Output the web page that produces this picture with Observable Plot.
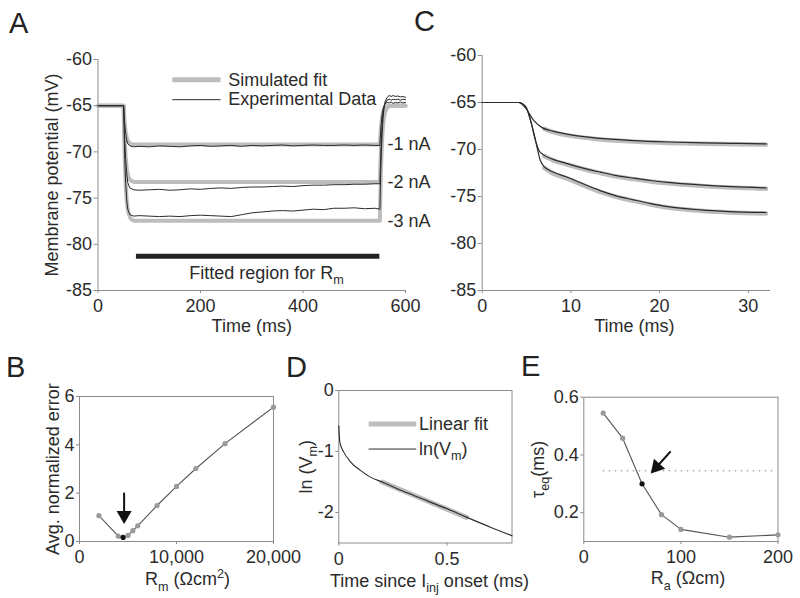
<!DOCTYPE html>
<html><head><meta charset="utf-8">
<script src="https://cdn.jsdelivr.net/npm/d3@7"></script>
<script src="https://cdn.jsdelivr.net/npm/@observablehq/plot@0.6"></script>
<style>
body{margin:0;background:#fff;}
#fig{position:relative;width:800px;height:598px;overflow:hidden;font-family:"Liberation Sans",Arial,Helvetica,sans-serif;color:#2b2b2b;background:#fff;}
.panel{position:absolute;}
.letter{position:absolute;font-size:29px;line-height:1;color:#222;}
</style></head><body><div id="fig"></div>
<script>
// ---------- Panel A data ----------
const tFitA = [0, 50, 52, 54, 56, 58, 60, 63, 66, 70, 80, 550, 552, 554, 556, 558, 560, 563, 566, 570, 580, 600];
const fitA1 = [-65, -65, -66.8, -67.86, -68.44, -68.78, -68.95, -69.1, -69.17, -69.2, -69.2, -69.2, -67.4, -66.35, -65.75, -65.42, -65.25, -65.1, -65.03, -65.0, -65.0, -65.0];
const fitA2 = [-65, -65, -68.55, -70.6, -71.77, -72.43, -72.76, -73.04, -73.17, -73.25, -73.25, -73.25, -69.7, -67.6, -66.45, -65.8, -65.5, -65.2, -65.08, -65.02, -65.0, -65.0];
const fitA3 = [-65, -65, -70.35, -73.47, -75.21, -76.2, -76.7, -77.14, -77.33, -77.45, -77.45, -77.45, -72.1, -69.0, -67.25, -66.25, -65.75, -65.3, -65.12, -65.04, -65.0, -65.0];
const tExpA = [0, 50, 52, 54, 56, 58, 62, 70, 80, 100, 120, 140, 160, 180, 200, 220, 240, 260, 280, 300, 320, 340, 360, 380, 400, 420, 440, 460, 480, 500, 520, 540, 550, 552, 554, 556, 558, 560, 564, 568, 572, 576, 580, 585, 590, 595, 600];
const expA1 = [-65, -65, -66.9, -68.0, -68.7, -69.1, -69.35, -69.45, -69.4,
  -69.45, -69.35, -69.4, -69.45, -69.35, -69.3, -69.4, -69.35, -69.3, -69.4, -69.3, -69.35, -69.3, -69.25, -69.35, -69.3, -69.25, -69.3, -69.3, -69.25, -69.3, -69.25, -69.3,
  -69.3, -67.3, -66.1, -65.4, -65.0, -64.8, -64.65, -64.7, -64.6, -64.75, -64.65, -64.7, -64.6, -64.7, -64.65];
const expA2 = [-65, -65, -68.5, -70.8, -72.3, -73.3, -73.9, -74.1, -74.15,
  -74.1, -74.05, -74.15, -74.1, -74.0, -74.05, -73.95, -73.9, -73.95, -73.85, -73.8, -73.8, -73.75, -73.7, -73.75, -73.65, -73.6, -73.6, -73.55, -73.55, -73.5, -73.5, -73.45,
  -73.45, -69.8, -67.4, -66.0, -65.2, -64.8, -64.4, -64.3, -64.4, -64.3, -64.35, -64.3, -64.4, -64.3, -64.35];
const expA3 = [-65, -65, -70.3, -73.4, -75.2, -76.2, -76.8, -76.95, -76.9,
  -76.95, -77.0, -76.95, -77.0, -76.9, -76.85, -76.9, -76.95, -77.0, -76.8, -76.6, -76.5, -76.4, -76.35, -76.4, -76.3, -76.2, -76.25, -76.1, -76.1, -76.05, -76.15, -76.1,
  -76.2, -71.5, -68.4, -66.5, -65.3, -64.6, -64.1, -63.9, -64.0, -63.9, -64.0, -63.95, -64.05, -64.0, -64.1];
const currentsA = ["-1 nA", "-2 nA", "-3 nA"];
const fittedRegionA = [75, 550];

// ---------- Panel C data ----------
const tC1 = [0, 4.1, 4.9, 5.8, 6.8, 8, 10, 13, 17, 21, 25, 29, 32];
const vC1 = [-65, -65, -65.6, -66.9, -67.7, -68.05, -68.45, -68.8, -69.05, -69.2, -69.3, -69.35, -69.4];
const tC2 = [0, 4.1, 4.9, 5.45, 6.0, 6.4, 6.95, 8, 9.6, 11.5, 13.3, 15, 17.1, 19, 20.9, 24.6, 28, 32];
const vC2 = [-65, -65, -65.45, -66.9, -69.0, -70.1, -70.6, -71.05, -71.5, -72.0, -72.4, -72.75, -73.05, -73.3, -73.5, -73.77, -73.95, -74.08];
const tC3 = [0, 4.1, 4.9, 5.45, 6.0, 6.57, 6.95, 8, 9.6, 11.5, 13.3, 15, 17.1, 19, 20.9, 24.6, 27.9, 32];
const vC3 = [-65, -65, -65.45, -66.9, -69.0, -71.2, -71.8, -72.4, -72.95, -73.7, -74.37, -74.9, -75.36, -75.75, -76.08, -76.43, -76.6, -76.7];
const tFitC1 = [7, 8, 10, 13, 17, 21, 25, 29, 32];
const fitC1 = [-67.8, -68.15, -68.55, -68.9, -69.15, -69.3, -69.38, -69.43, -69.47];
const tFitC2 = [7, 8, 9.6, 11.5, 13.3, 15, 17.1, 19, 20.9, 24.6, 28, 32];
const fitC2 = [-70.7, -71.15, -71.6, -72.1, -72.5, -72.85, -73.15, -73.4, -73.6, -73.87, -74.05, -74.17];
const tFitC3 = [7, 8, 9.6, 11.5, 13.3, 15, 17.1, 19, 20.9, 24.6, 27.9, 32];
const fitC3 = [-71.95, -72.55, -73.1, -73.85, -74.5, -75.0, -75.47, -75.85, -76.17, -76.52, -76.7, -76.8];

// ---------- Panel B data ----------
const rmB = [2000, 4000, 4500, 5000, 5500, 6000, 8000, 10000, 12000, 15000, 20000];
const errB = [1.07, 0.22, 0.17, 0.25, 0.45, 0.65, 1.49, 2.28, 3.02, 4.05, 5.56];
const bestRmB = 4500;

// ---------- Panel D data ----------
const tD = [0, 0.002, 0.005, 0.023, 0.054, 0.1, 0.146, 0.2, 0.27, 0.346, 0.423, 0.5, 0.592, 0.7, 0.8];
const lnVD = [-0.58, -0.72, -0.85, -1.01, -1.17, -1.31, -1.42, -1.5, -1.61, -1.72, -1.83, -1.94, -2.08, -2.24, -2.38];
const fitTD = [0.2, 0.59];
const fitVD = [-1.5, -2.08];

// ---------- Panel E data ----------
const raE = [20, 40, 60, 80, 100, 150, 200];
const tauE = [0.545, 0.458, 0.30, 0.193, 0.142, 0.115, 0.123];
const bestRaE = 60;
const targetTauE = 0.345;

// ---------- helpers ----------
const FONT = '"Liberation Sans", Arial, Helvetica, sans-serif';
const AX = "#8c8c8c", INK = "#2b2b2b", FIT = "#bdbdbd";
const baseStyle = {fontFamily: FONT, fontSize: "18px", color: INK, background: "transparent", overflow: "visible"};
const fmt = d => String(d);
const fig = document.getElementById("fig");
const title = {textAnchor: "middle", lineAnchor: "middle", fontSize: 18};

function rich(root) {
  const NS = "http://www.w3.org/2000/svg";
  root.querySelectorAll("text").forEach(t => {
    const s = t.textContent;
    if (!/[_^]\{/.test(s)) return;
    const fs = parseFloat(getComputedStyle(t).fontSize) || 18;
    t.textContent = "";
    let cur = 0;
    const add = (txt, target, small) => {
      if (!txt) return;
      const ts = document.createElementNS(NS, "tspan");
      ts.textContent = txt;
      const dy = target - cur;
      if (dy) ts.setAttribute("dy", dy.toFixed(2));
      if (small) ts.setAttribute("font-size", (fs * 0.7).toFixed(1));
      cur = target;
      t.appendChild(ts);
    };
    const re = /([_^])\{([^}]*)\}/g; let last = 0, m;
    while ((m = re.exec(s))) {
      add(s.slice(last, m.index), 0, false);
      add(m[2], m[1] === "_" ? fs * 0.3 : -fs * 0.38, true);
      last = re.lastIndex;
    }
    add(s.slice(last), 0, false);
  });
}
function place(plot, left, top) {
  const d = document.createElement("div");
  d.className = "panel"; d.style.left = left + "px"; d.style.top = top + "px";
  d.appendChild(plot); fig.appendChild(d); rich(plot);
}
function letter(ch, left, top) {
  const d = document.createElement("div");
  d.className = "letter"; d.textContent = ch; d.style.left = left + "px"; d.style.top = top + "px";
  fig.appendChild(d);
}

// ---------- Panel A ----------
const fitLongA = [fitA1, fitA2, fitA3].flatMap((vs, k) => vs.map((v, i) => ({t: tFitA[i], v, s: k})));
const expLongA = [expA1, expA2, expA3].flatMap((vs, k) => vs.map((v, i) => ({t: tExpA[i], v, s: k})));
const labelA = currentsA.map((c, k) => ({c, v: [fitA1, fitA2, fitA3][k][10]}));
place(Plot.plot({
  width: 470, height: 340, marginLeft: 97.5, marginRight: 65, marginTop: 59, marginBottom: 50,
  style: baseStyle,
  x: {domain: [0, 600]}, y: {domain: [-85, -60]},
  marks: [
    Plot.axisY({ticks: [-60, -65, -70, -75, -80, -85], tickFormat: fmt, tickSize: 4, tickPadding: 2, stroke: AX, label: null}),
    Plot.axisX({ticks: [0, 200, 400, 600], tickFormat: fmt, tickSize: 3, tickPadding: 6, stroke: AX, label: null}),
    Plot.ruleX([0], {stroke: AX}),
    Plot.ruleY([-85], {stroke: AX}),
    Plot.line(fitLongA, {x: "t", y: "v", z: "s", stroke: FIT, strokeWidth: 4}),
    Plot.line(expLongA, {x: "t", y: "v", z: "s", stroke: INK, strokeWidth: 1}),
    Plot.ruleY([{x1: fittedRegionA[0], x2: fittedRegionA[1], y: -81.3}], {x1: "x1", x2: "x2", y: "y", stroke: "#222", strokeWidth: 5}),
    Plot.text(["Fitted region for R_{m}"], {x: 178, y: -83.1, textAnchor: "start", fontSize: 18}),
    Plot.ruleY([-62.2], {x1: 146, x2: 240, stroke: FIT, strokeWidth: 5}),
    Plot.ruleY([-64.35], {x1: 146, x2: 240, stroke: INK, strokeWidth: 1}),
    Plot.text(["Simulated fit"], {x: 254, y: -62.2, textAnchor: "start", fontSize: 18}),
    Plot.text(["Experimental Data"], {x: 254, y: -64.35, textAnchor: "start", fontSize: 18}),
    Plot.text(labelA, {x: 565, y: "v", text: "c", textAnchor: "start", fontSize: 18}),
    Plot.text(["Membrane potential (mV)"], {...title, frameAnchor: "left", dx: -46, rotate: -90}),
    Plot.text(["Time (ms)"], {...title, frameAnchor: "bottom", dy: 36})
  ]
}), 0, 0);

// ---------- Panel C ----------
const expLongC = [[tC1, vC1], [tC2, vC2], [tC3, vC3]].flatMap(([ts, vs], k) => vs.map((v, i) => ({t: ts[i], v, s: k})));
const fitLongC = [[tFitC1, fitC1], [tFitC2, fitC2], [tFitC3, fitC3]].flatMap(([ts, vs], k) => vs.map((v, i) => ({t: ts[i], v, s: k})));
place(Plot.plot({
  width: 400, height: 340, marginLeft: 81.7, marginRight: 30, marginTop: 55, marginBottom: 50,
  style: baseStyle,
  x: {domain: [0, 32.5]}, y: {domain: [-85, -60]},
  marks: [
    Plot.axisY({ticks: [-60, -65, -70, -75, -80, -85], tickFormat: fmt, tickSize: 4, tickPadding: 2, stroke: AX, label: null}),
    Plot.axisX({ticks: [0, 10, 20, 30], tickFormat: fmt, tickSize: 3, tickPadding: 6, stroke: AX, label: null}),
    Plot.ruleX([0], {stroke: AX}),
    Plot.ruleY([-85], {stroke: AX}),
    Plot.line(fitLongC, {x: "t", y: "v", z: "s", stroke: FIT, strokeWidth: 4.5, curve: "monotone-x"}),
    Plot.line(expLongC, {x: "t", y: "v", z: "s", stroke: INK, strokeWidth: 1.2, curve: "monotone-x"}),
    Plot.text(["Time (ms)"], {...title, frameAnchor: "bottom", dy: 36, dx: 8})
  ]
}), 400, 0);

// ---------- Panel B ----------
const dataB = rmB.map((rm, i) => ({rm, err: errB[i], best: rm === bestRmB}));
const arrowB = {x: 4600, y1: 2.02, y2: 1.0, head: 1.08};
place(Plot.plot({
  width: 330, height: 258, marginLeft: 79, marginRight: 57, marginTop: 56, marginBottom: 57,
  style: baseStyle,
  x: {domain: [0, 20000]}, y: {domain: [0, 6]},
  marks: [
    Plot.frame({stroke: AX}),
    Plot.axisY({ticks: [0, 2, 4, 6], tickFormat: fmt, tickSize: 3, tickPadding: 2, stroke: AX, label: null}),
    Plot.axisX({ticks: [0, 10000, 20000], tickFormat: d3.format(","), tickSize: 3, tickPadding: 6, stroke: AX, label: null}),
    Plot.line(dataB, {x: "rm", y: "err", stroke: "#555", strokeWidth: 1.1}),
    Plot.dot(dataB, {x: "rm", y: "err", r: 2.6, fill: d => d.best ? "#111" : "#9a9a9a"}),
    Plot.link([arrowB], {x1: "x", x2: "x", y1: "y1", y2: "y2", stroke: "#111", strokeWidth: 2}),
    Plot.dot([arrowB], {x: "x", y: "head", symbol: "triangle", r: 5.6, fill: "#111", rotate: 180}),
    Plot.text(["Avg. normalized error"], {...title, frameAnchor: "left", dx: -26, rotate: -90}),
    Plot.text(["R_{m} (Ωcm^{2})"], {...title, frameAnchor: "bottom", dy: 38, dx: 11})
  ]
}), 0, 340);

// ---------- Panel D ----------
const dataD = tD.map((t, i) => ({t, v: lnVD[i]}));
const fitD = fitTD.map((t, i) => ({t, v: fitVD[i]}));
place(Plot.plot({
  width: 240, height: 258, marginLeft: 48.3, marginRight: 18.5, marginTop: 50, marginBottom: 55.5,
  style: baseStyle,
  x: {domain: [0, 0.8]}, y: {domain: [-2.5, 0]},
  marks: [
    Plot.frame({stroke: AX}),
    Plot.axisY({ticks: [0, -1, -2], tickFormat: fmt, tickSize: 3, tickPadding: 2, stroke: AX, label: null}),
    Plot.axisX({ticks: [0, 0.5], tickFormat: fmt, tickSize: 3, tickPadding: 6, stroke: AX, label: null}),
    Plot.line(fitD, {x: "t", y: "v", stroke: FIT, strokeWidth: 5}),
    Plot.line(dataD, {x: "t", y: "v", stroke: INK, strokeWidth: 1.1, curve: "monotone-x"}),
    Plot.ruleY([-0.55], {x1: 0.14, x2: 0.36, stroke: FIT, strokeWidth: 5}),
    Plot.ruleY([-0.96], {x1: 0.14, x2: 0.36, stroke: INK, strokeWidth: 1}),
    Plot.text(["Linear fit"], {x: 0.37, y: -0.55, textAnchor: "start", fontSize: 18}),
    Plot.text(["ln(V_{m})"], {x: 0.37, y: -0.96, textAnchor: "start", fontSize: 18}),
    Plot.text(["ln (V_{m})"], {...title, frameAnchor: "left", dx: -33, rotate: -90}),
    Plot.text(["Time since I_{inj} onset (ms)"], {...title, frameAnchor: "bottom", dy: 38, dx: 4})
  ]
}), 290, 340);

// ---------- Panel E ----------
const dataE = raE.map((ra, i) => ({ra, tau: tauE[i], best: ra === bestRaE}));
const arrowE = {x1: 89.4, y1: 0.412, x2: 75, y2: 0.358};
place(Plot.plot({
  width: 270, height: 258, marginLeft: 53.3, marginRight: 22.5, marginTop: 56.7, marginBottom: 57,
  style: baseStyle,
  x: {domain: [0, 200]}, y: {domain: [0.1, 0.6]},
  marks: [
    Plot.frame({stroke: AX}),
    Plot.axisY({ticks: [0.2, 0.4, 0.6], tickFormat: fmt, tickSize: 3, tickPadding: 2, stroke: AX, label: null}),
    Plot.axisX({ticks: [0, 100, 200], tickFormat: fmt, tickSize: 3, tickPadding: 6, stroke: AX, label: null}),
    Plot.ruleY([targetTauE], {x1: 20, x2: 197, stroke: "#aaa", strokeWidth: 1.5, strokeDasharray: "1.5,4.5"}),
    Plot.line(dataE, {x: "ra", y: "tau", stroke: "#555", strokeWidth: 1.1}),
    Plot.dot(dataE, {x: "ra", y: "tau", r: 2.6, fill: d => d.best ? "#111" : "#9a9a9a"}),
    Plot.link([arrowE], {x1: "x1", y1: "y1", x2: "x2", y2: "y2", stroke: "#111", strokeWidth: 2}),
    Plot.dot([arrowE], {x: "x2", y: "y2", symbol: "triangle", r: 5.6, fill: "#111", rotate: 222}),
    Plot.text(["τ_{eq}(ms)"], {...title, frameAnchor: "left", dx: -46, rotate: -90}),
    Plot.text(["R_{a} (Ωcm)"], {...title, frameAnchor: "bottom", dy: 37, dx: 7})
  ]
}), 530, 340);

letter("A", 9, 9);
letter("C", 414, 7);
letter("B", 6, 353);
letter("D", 286, 353);
letter("E", 521, 352);
</script></body></html>
